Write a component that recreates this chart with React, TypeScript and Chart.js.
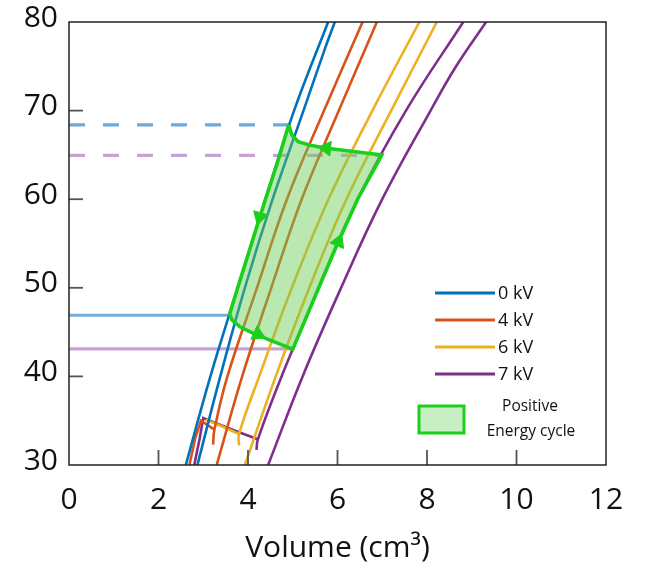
import React, { useEffect, useRef } from 'react';
import { Chart, registerables } from 'chart.js';

Chart.register(...registerables);

// ---- data (volume cm3, pressure) ----
const blue0kV_A: number[][] = [[2.61, 30], [3.16, 40], [3.77, 50], [4.39, 60], [5.03, 70], [5.79, 80]];
const blue0kV_B: number[][] = [[2.87, 30], [3.38, 40], [3.93, 50], [4.55, 60], [5.24, 70], [5.72, 77], [5.94, 80]];
const orange4kV_A: number[][] = [[3.22, 32.3], [3.25, 34.0], [3.54, 40], [4.2, 50], [4.87, 60], [5.7, 70], [6.56, 80]];
const orange4kV_B: number[][] = [[3.3, 30], [3.87, 40], [4.52, 50], [5.2, 60], [6.03, 70], [6.88, 80]];
const orange4kV_hook: number[][] = [[2.69, 30], [2.82, 33], [2.95, 35.0], [3.1, 34.5], [3.25, 34.0]];
const yellow6kV_A: number[][] = [[3.8, 32.2], [3.8, 33.5], [4.25, 40], [4.98, 50], [5.8, 60], [6.78, 70], [7.83, 80]];
const yellow6kV_B: number[][] = [[3.93, 30], [4.62, 40], [5.37, 50], [6.2, 60], [7.2, 70], [8.22, 80]];
const yellow6kV_hook: number[][] = [[3.05, 35.1], [3.4, 34.4], [3.8, 33.5]];
const purple7kV_A: number[][] = [[4.19, 31.7], [4.22, 32.9], [4.75, 40], [5.58, 50], [6.45, 60], [7.53, 70], [8.81, 80]];
const purple7kV_B: number[][] = [[4.45, 30], [5.22, 40], [6.08, 50], [7.0, 60], [8.08, 70], [8.65, 75], [9.32, 80]];
const purple7kV_hook: number[][] = [[2.8, 30], [2.92, 33], [3.0, 35.3], [3.3, 34.7], [3.8, 33.7], [4.22, 32.9]];

const cycle: number[][] = [
  [4.91, 68.4], [4.65, 64], [4.39, 60], [4.08, 55], [3.77, 50], [3.59, 47.05],
  [3.64, 46.37], [3.82, 45.6], [4.12, 44.86], [4.49, 44.1], [5.0, 43.06],
  [5.33, 47], [5.58, 50], [6.0, 55], [6.45, 60], [6.99, 65.0],
  [5.76, 65.75], [5.39, 66.1], [5.12, 66.5], [4.98, 67.25], [4.91, 68.4],
];
const cycleArrows: number[][] = [[4.26, 58.0], [4.22, 44.75], [6.02, 55.2], [5.75, 65.75]];
const cycleArrowAngles: number[] = [196, 115, 22, 276];

const refBlueDashed: number[][] = [[0, 68.4], [4.91, 68.4]];
const refPurpleDashed: number[][] = [[0, 64.95], [6.99, 64.95]];
const refBlueSolid: number[][] = [[0, 46.9], [3.6, 46.9]];
const refPurpleSolid: number[][] = [[0, 43.1], [5.0, 43.1]];

const xTicks = [0, 2, 4, 6, 8, 10, 12];
const yTicks = [30, 40, 50, 60, 70, 80];
const xTitle = 'Volume (cm³)';
const legendLabels = ['0 kV', '4 kV', '6 kV', '7 kV'];
const cycleLegend = ['Positive', 'Energy cycle'];

const BLUE = '#0072BD';
const ORANGE = '#D95319';
const YELLOW = '#EDB120';
const PURPLE = '#7E2F8E';
const GREEN = '#1ccf1c';
const legendColors = [BLUE, ORANGE, YELLOW, PURPLE];

const toXY = (arr: number[][]) => arr.map(([x, y]) => ({ x, y }));

export default function App() {
  const ref = useRef<HTMLCanvasElement | null>(null);
  useEffect(() => {
    if (!ref.current) return;
    const curve = (d: number[][], color: string, tension = 0.4) => ({
      data: toXY(d), borderColor: color, borderWidth: 2.6, pointRadius: 0, fill: false, tension, order: 2,
    });
    const refLine = (d: number[][], color: string, dash: number[]) => ({
      data: toXY(d), borderColor: color, borderWidth: 3.2, pointRadius: 0, fill: false, borderDash: dash, order: 3,
    });
    const decor = {
      id: 'decor',
      afterDatasetsDraw(chart: any) {
        const { ctx, chartArea: a, scales } = chart;
        ctx.save();
        ctx.strokeStyle = '#555';
        ctx.lineWidth = 1.8;
        yTicks.slice(1, -1).forEach((v) => {
          const y = scales.y.getPixelForValue(v);
          ctx.beginPath(); ctx.moveTo(a.left, y); ctx.lineTo(a.left + 14, y); ctx.stroke();
        });
        xTicks.slice(1, -1).forEach((v) => {
          const x = scales.x.getPixelForValue(v);
          ctx.beginPath(); ctx.moveTo(x, a.bottom); ctx.lineTo(x, a.bottom - 15); ctx.stroke();
        });
        ctx.strokeStyle = '#222';
        ctx.lineWidth = 1.5;
        ctx.strokeRect(a.left, a.top, a.right - a.left, a.bottom - a.top);
        // legend
        const lx0 = a.left + 366, lx1 = a.left + 426;
        ctx.font = '18px "Open Sans"';
        ctx.textBaseline = 'middle';
        ctx.textAlign = 'left';
        legendLabels.forEach((t, i) => {
          const y = a.top + 271 + i * 27;
          ctx.strokeStyle = legendColors[i];
          ctx.lineWidth = 3;
          ctx.beginPath(); ctx.moveTo(lx0, y); ctx.lineTo(lx1, y); ctx.stroke();
          ctx.fillStyle = '#111';
          ctx.fillText(t, lx1 + 3, y + 1);
        });
        const bx = a.left + 350, by = a.top + 384;
        ctx.fillStyle = 'rgba(200,238,195,1)';
        ctx.fillRect(bx, by, 45, 27);
        ctx.strokeStyle = GREEN;
        ctx.lineWidth = 3;
        ctx.strokeRect(bx, by, 45, 27);
        ctx.fillStyle = '#111';
        ctx.font = '15.5px "Open Sans"';
        ctx.textAlign = 'center';
        ctx.fillText(cycleLegend[0], a.left + 461, a.top + 385);
        ctx.fillText(cycleLegend[1], a.left + 462, a.top + 410);
        ctx.restore();
      },
    };
    const chart = new Chart(ref.current, {
      type: 'line',
      data: {
        datasets: [
          curve(blue0kV_A, BLUE), curve(blue0kV_B, BLUE),
          curve(orange4kV_A, ORANGE), curve(orange4kV_B, ORANGE), curve(orange4kV_hook, ORANGE, 0),
          curve(yellow6kV_A, YELLOW), curve(yellow6kV_B, YELLOW), curve(yellow6kV_hook, YELLOW, 0),
          curve(purple7kV_A, PURPLE), curve(purple7kV_B, PURPLE), curve(purple7kV_hook, PURPLE, 0),
          refLine(refBlueDashed, 'rgba(100,165,220,0.95)', [16, 18]),
          refLine(refPurpleDashed, 'rgba(195,158,210,0.95)', [16, 18]),
          refLine(refBlueSolid, 'rgba(110,170,222,0.95)', []),
          refLine(refPurpleSolid, 'rgba(195,158,210,0.95)', []),
          {
            data: toXY(cycle), borderColor: GREEN, borderWidth: 3.6, pointRadius: 0,
            fill: 'shape', backgroundColor: 'rgba(105,205,85,0.46)', tension: 0, order: 1,
          },
          {
            data: toXY(cycleArrows), showLine: false, pointStyle: 'triangle', pointRadius: 8.5,
            pointRotation: cycleArrowAngles, pointBackgroundColor: GREEN, pointBorderColor: GREEN,
            pointBorderWidth: 1, order: 0,
          },
        ] as any,
      },
      options: {
        animation: false,
        responsive: true,
        maintainAspectRatio: false,
        layout: { padding: { left: 0, right: 39, top: 22, bottom: 0 } },
        plugins: { legend: { display: false }, tooltip: { enabled: false } },
        scales: {
          x: {
            type: 'linear', min: 0, max: 12,
            afterBuildTicks: (s: any) => { s.ticks = xTicks.map((v) => ({ value: v })); },
            grid: { display: false, drawTicks: false },
            border: { display: false },
            ticks: { font: { family: 'Open Sans', size: 30 }, color: '#111', padding: 17, maxRotation: 0 },
            title: { display: true, text: xTitle, font: { family: 'Open Sans', size: 30 }, color: '#111', padding: { top: 0, bottom: 3 } },
            afterFit: (s: any) => { s.height = 104; s.paddingLeft = 0; s.paddingRight = 0; },
          },
          y: {
            type: 'linear', min: 30, max: 80,
            afterBuildTicks: (s: any) => { s.ticks = yTicks.map((v) => ({ value: v })); },
            grid: { display: false, drawTicks: false },
            border: { display: false },
            ticks: { font: { family: 'Open Sans', size: 30 }, color: '#111', padding: 11, labelOffset: -4 },
            afterFit: (s: any) => { s.width = 69; s.paddingTop = 0; s.paddingBottom = 0; },
          },
        },
      } as any,
      plugins: [decor],
    });
    return () => chart.destroy();
  }, []);
  return (
    <div style={{ position: 'absolute', left: 0, top: 0, width: 645, height: 569 }}>
      <canvas ref={ref} />
    </div>
  );
}
